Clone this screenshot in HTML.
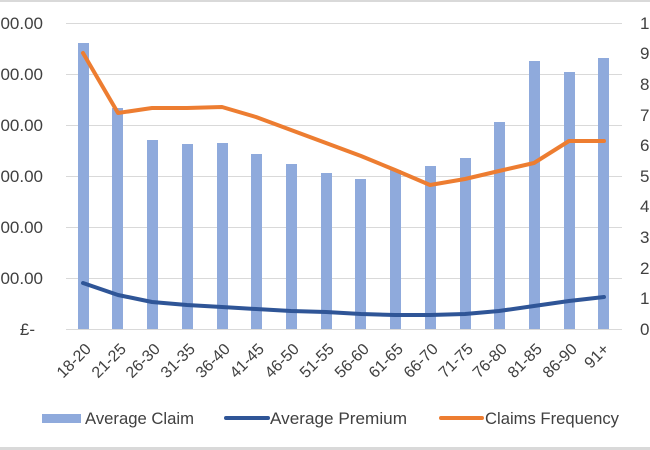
<!DOCTYPE html>
<html><head><style>
html,body{margin:0;padding:0;background:#fff;}
svg{display:block;font-family:"Liberation Sans",Calibri,sans-serif;}
</style></head><body>
<svg width="650" height="450" viewBox="0 0 650 450">
<rect x="0" y="0" width="650" height="2" fill="#d9d9d9"/>
<rect x="0" y="447" width="650" height="3" fill="#d9d9d9"/>
<g stroke="#d9d9d9" stroke-width="1">
<line x1="66" x2="622" y1="23.5" y2="23.5"/>
<line x1="66" x2="622" y1="74.5" y2="74.5"/>
<line x1="66" x2="622" y1="125.5" y2="125.5"/>
<line x1="66" x2="622" y1="176.5" y2="176.5"/>
<line x1="66" x2="622" y1="227.5" y2="227.5"/>
<line x1="66" x2="622" y1="278.5" y2="278.5"/>
<line x1="66" x2="622" y1="329.5" y2="329.5"/>
</g>
<g font-size="17" fill="#404040" text-anchor="end">
<text x="43" y="29">£1,200.00</text>
<text x="43" y="80">£1,000.00</text>
<text x="43" y="131">£800.00</text>
<text x="43" y="182">£600.00</text>
<text x="43" y="233">£400.00</text>
<text x="43" y="284">£200.00</text>
<text x="35" y="335">£-</text>
</g>
<g font-size="17" fill="#404040">
<text x="640" y="29">10</text>
<text x="640" y="59">9</text>
<text x="640" y="90">8</text>
<text x="640" y="121">7</text>
<text x="640" y="151">6</text>
<text x="640" y="182">5</text>
<text x="640" y="212">4</text>
<text x="640" y="243">3</text>
<text x="640" y="274">2</text>
<text x="640" y="304">1</text>
<text x="640" y="335">0</text>
</g>
<g fill="#8faadc">
<rect x="78" y="43" width="11" height="286"/>
<rect x="112" y="108" width="11" height="221"/>
<rect x="147" y="140" width="11" height="189"/>
<rect x="182" y="144" width="11" height="185"/>
<rect x="217" y="143" width="11" height="186"/>
<rect x="251" y="154" width="11" height="175"/>
<rect x="286" y="164" width="11" height="165"/>
<rect x="321" y="173" width="11" height="156"/>
<rect x="355" y="179" width="11" height="150"/>
<rect x="390" y="170" width="11" height="159"/>
<rect x="425" y="166" width="11" height="163"/>
<rect x="460" y="158" width="11" height="171"/>
<rect x="494" y="122" width="11" height="207"/>
<rect x="529" y="61" width="11" height="268"/>
<rect x="564" y="72" width="11" height="257"/>
<rect x="598" y="58" width="11" height="271"/>
</g>
<polyline fill="none" stroke="#2f5597" stroke-width="4" stroke-linejoin="round" stroke-linecap="round"
points="83,283 118,295 152,302 187,305 222,307 256,309 291,311 326,312 361,314 395,315 430,315 465,314 499,311 534,306 569,301 604,297"/>
<polyline fill="none" stroke="#ed7d31" stroke-width="4" stroke-linejoin="round" stroke-linecap="round"
points="83,53 118,113 152,108 187,108 222,107 256,117 291,130 326,143 361,156 395,170 430,185 465,179 499,171 534,163 569,141 604,141"/>
<g font-size="16" fill="#404040" text-anchor="end">
<text transform="translate(92,350) rotate(-45)">18-20</text>
<text transform="translate(127,350) rotate(-45)">21-25</text>
<text transform="translate(161,350) rotate(-45)">26-30</text>
<text transform="translate(196,350) rotate(-45)">31-35</text>
<text transform="translate(231,350) rotate(-45)">36-40</text>
<text transform="translate(265,350) rotate(-45)">41-45</text>
<text transform="translate(300,350) rotate(-45)">46-50</text>
<text transform="translate(335,350) rotate(-45)">51-55</text>
<text transform="translate(370,350) rotate(-45)">56-60</text>
<text transform="translate(404,350) rotate(-45)">61-65</text>
<text transform="translate(439,350) rotate(-45)">66-70</text>
<text transform="translate(474,350) rotate(-45)">71-75</text>
<text transform="translate(508,350) rotate(-45)">76-80</text>
<text transform="translate(543,350) rotate(-45)">81-85</text>
<text transform="translate(578,350) rotate(-45)">86-90</text>
<text transform="translate(610,350) rotate(-45)">91+</text>
</g>
<rect x="42" y="414" width="39" height="9" fill="#8faadc"/>
<line x1="226" x2="268" y1="418" y2="418" stroke="#2f5597" stroke-width="4" stroke-linecap="round"/>
<line x1="441" x2="482" y1="418" y2="418" stroke="#ed7d31" stroke-width="4" stroke-linecap="round"/>
<g font-size="17" fill="#404040">
<text x="85" y="424" textLength="109" lengthAdjust="spacingAndGlyphs">Average Claim</text>
<text x="270" y="424" textLength="137" lengthAdjust="spacingAndGlyphs">Average Premium</text>
<text x="485" y="424" textLength="134" lengthAdjust="spacingAndGlyphs">Claims Frequency</text>
</g>
</svg>
</body></html>
